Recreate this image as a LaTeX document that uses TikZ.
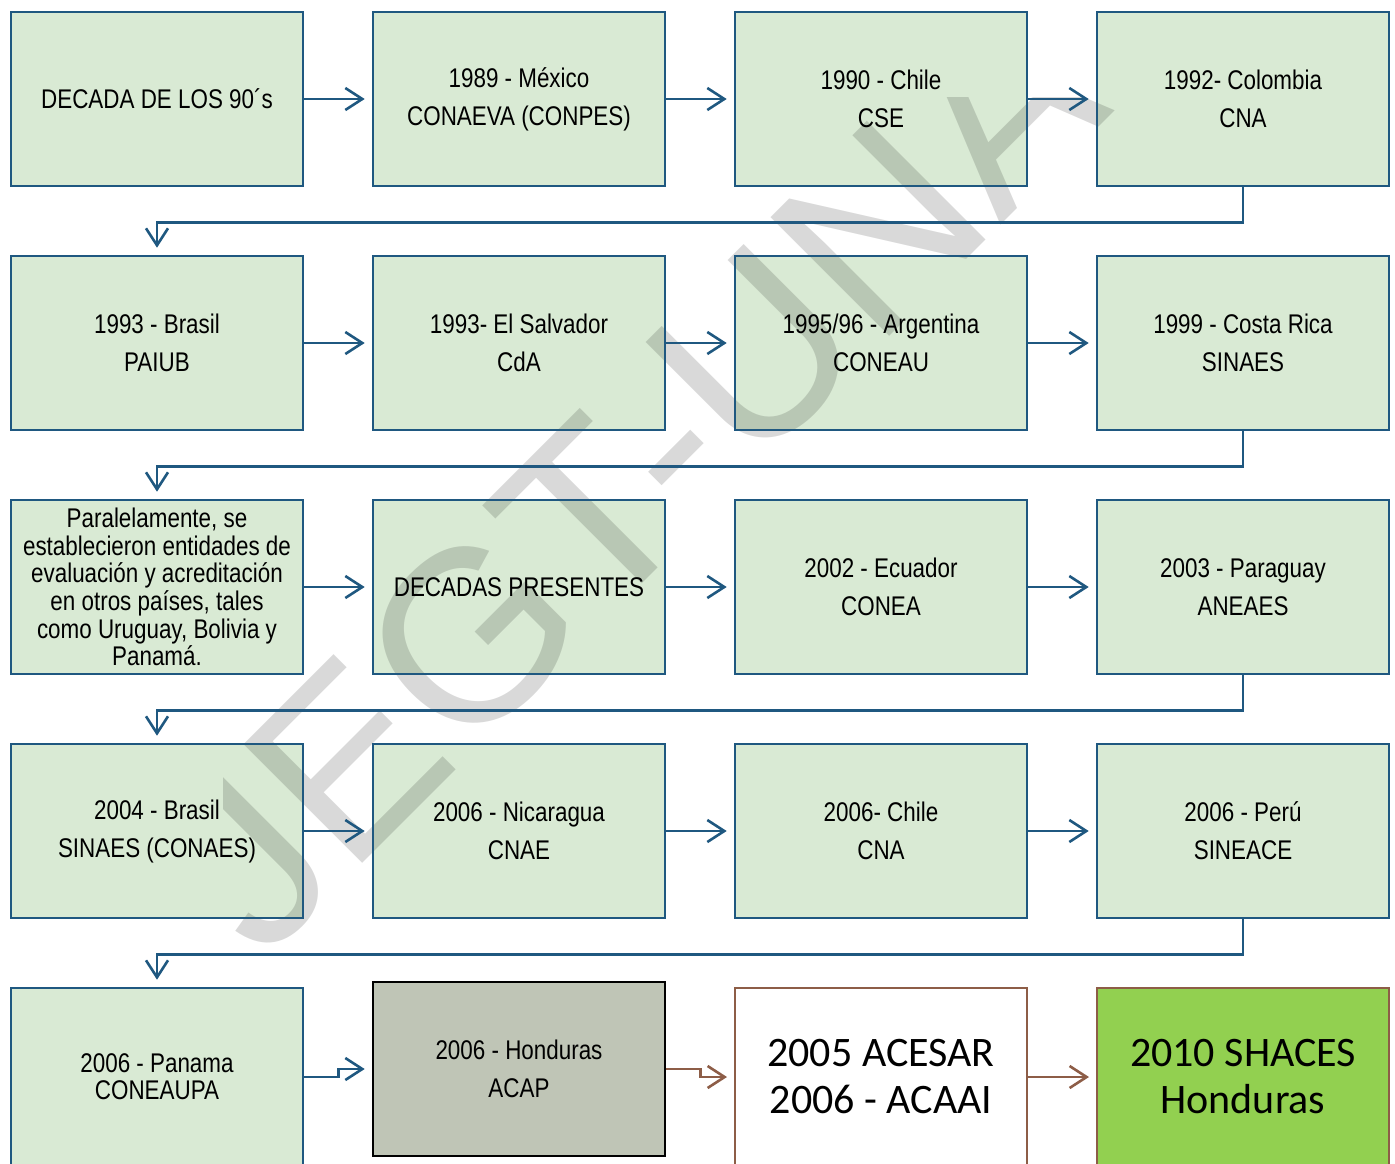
\documentclass[tikz,border=0pt]{standalone}
\usepackage{fontspec}
\usetikzlibrary{arrows.meta}
\newfontfamily\narrowfont[FakeStretch=0.83]{Liberation Sans}
\newfontfamily\calibfont{Carlito}
\newfontfamily\wmfont{Liberation Sans}
\definecolor{boxblue}{RGB}{31,88,128}
\definecolor{boxgreen}{RGB}{217,234,212}
\definecolor{hondgray}{RGB}{191,197,182}
\definecolor{arrbrown}{RGB}{141,93,71}
\definecolor{shagreen}{RGB}{146,208,80}
\pgfdeclarelayer{bg}
\pgfdeclarelayer{wm}
\pgfsetlayers{bg,wm,main}
\begin{document}
\begin{tikzpicture}[x=1pt,y=-1pt,
  box/.style={draw=boxblue, line width=2.6pt, minimum width=292pt, minimum height=174pt,
    inner sep=0pt, align=center, font={\narrowfont\fontsize{27}{38}\selectfont}},
  lastbox/.style={box, minimum height=178pt},
  arr/.style={draw=boxblue, line width=2.6pt, -{Straight Barb[length=17pt,width=22pt]}, shorten >=7pt},
  brarr/.style={arr, draw=arrbrown},
  wmtext/.style={anchor=base west, rotate=45, inner sep=0pt, text=black, opacity=0.15,
    font={\wmfont\fontsize{244}{244}\selectfont}}]
\useasboundingbox (0,0) rectangle (1395,1163);

% row 1
\node[box] (a1) at (157,99) {DECADA DE LOS 90´s};
\node[box] (a2) at (519,99) {1989 - México\\CONAEVA (CONPES)};
\node[box] (a3) at (881,99) {1990 - Chile\\CSE};
\node[box] (a4) at (1243,99) {1992- Colombia\\CNA};
% row 2
\node[box] (b1) at (157,343) {1993 - Brasil\\PAIUB};
\node[box] (b2) at (519,343) {1993- El Salvador\\CdA};
\node[box] (b3) at (881,343) {1995/96 - Argentina\\CONEAU};
\node[box] (b4) at (1243,343) {1999 - Costa Rica\\SINAES};
% row 3
\node[box, font={\narrowfont\fontsize{27}{27.6}\selectfont}] (c1) at (157,587)
  {Paralelamente, se\\establecieron entidades de\\evaluación y acreditación\\en otros países, tales\\como Uruguay, Bolivia y\\Panamá.};
\node[box] (c2) at (519,587) {DECADAS PRESENTES};
\node[box] (c3) at (881,587) {2002 - Ecuador\\CONEA};
\node[box] (c4) at (1243,587) {2003 - Paraguay\\ANEAES};
% row 4
\node[box] (d1) at (157,831) {2004 - Brasil\\SINAES (CONAES)};
\node[box] (d2) at (519,831) {2006 - Nicaragua\\CNAE};
\node[box] (d3) at (881,831) {2006- Chile\\CNA};
\node[box] (d4) at (1243,831) {2006 - Perú\\SINEACE};
% row 5
\node[lastbox, font={\narrowfont\fontsize{27}{27}\selectfont}] (e1) at (157,1077) {2006 - Panama\\CONEAUPA};
\node[box, draw=black, fill=hondgray] (e2) at (519,1069) {2006 - Honduras\\ACAP};
\node[lastbox, draw=arrbrown, line width=2pt, fill=white, font={\calibfont\fontsize{42}{47}\selectfont}] (e3) at (881,1077) {2005 ACESAR\\2006 - ACAAI};
\node[lastbox, draw=arrbrown, line width=2pt, fill=shagreen, font={\calibfont\fontsize{42}{47}\selectfont}] (e4) at (1243,1077) {2010 SHACES\\Honduras};

% fills below watermark
\begin{pgfonlayer}{bg}
\foreach \n in {a1,a2,a3,a4,b1,b2,b3,b4,c1,c2,c3,c4,d1,d2,d3,d4,e1}
  \fill[boxgreen] (\n.south west) rectangle (\n.north east);
\end{pgfonlayer}

% watermark
\begin{pgfonlayer}{wm}
\begin{scope}
\clip (223,97) rectangle (1395,1163);
\node[wmtext] (wmark) at (262,964) {JEGT-UNA};
\end{scope}
\end{pgfonlayer}

% horizontal arrows
\draw[arr] (a1.east) -- (a2.west);
\draw[arr] (a2.east) -- (a3.west);
\draw[arr] (a3.east) -- (a4.west);
\draw[arr] (b1.east) -- (b2.west);
\draw[arr] (b2.east) -- (b3.west);
\draw[arr] (b3.east) -- (b4.west);
\draw[arr] (c1.east) -- (c2.west);
\draw[arr] (c2.east) -- (c3.west);
\draw[arr] (c3.east) -- (c4.west);
\draw[arr] (d1.east) -- (d2.west);
\draw[arr] (d2.east) -- (d3.west);
\draw[arr] (d3.east) -- (d4.west);
\draw[arr] (e1.east) -- ++(34,0) |- (e2.west);
\draw[brarr] (e2.east) -- ++(34,0) |- (e3.west);
\draw[brarr] (e3.east) -- (e4.west);

% row connectors
\draw[arr] (a4.south) -- ++(0,35) -| (b1.north);
\draw[arr] (b4.south) -- ++(0,35) -| (c1.north);
\draw[arr] (c4.south) -- ++(0,35) -| (d1.north);
\draw[arr] (d4.south) -- ++(0,35) -| (e1.north);
\end{tikzpicture}
\end{document}
